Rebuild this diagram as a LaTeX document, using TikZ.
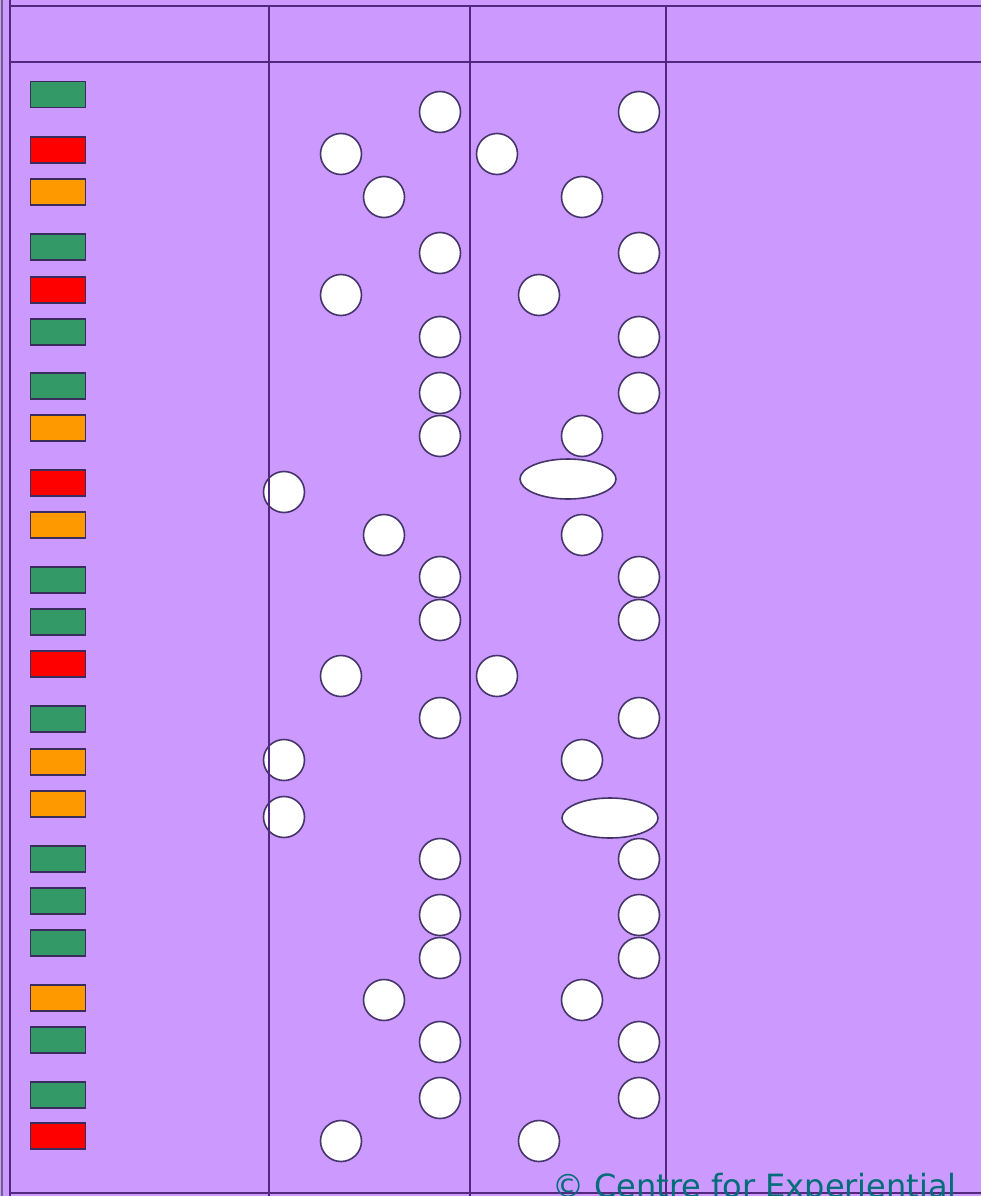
\documentclass[tikz,border=0pt]{standalone}
\usepackage{fontspec}
\usetikzlibrary{shapes.geometric}
\newfontfamily\credfont{DejaVu Sans}
\definecolor{bg}{HTML}{CC99FF}
\definecolor{gridline}{HTML}{52287F}
\definecolor{edgegray}{HTML}{6E6288}
\definecolor{dotline}{HTML}{45356A}
\definecolor{barline}{HTML}{3A2C5C}
\definecolor{gbar}{HTML}{339966}
\definecolor{rbar}{HTML}{FF0000}
\definecolor{obar}{HTML}{FF9900}
\definecolor{credit}{HTML}{006E78}
\begin{document}
\begin{tikzpicture}[x=1pt,y=-1pt,
  tline/.style={draw=gridline, line width=2.2pt},
  dot/.style={circle, draw=dotline, fill=white, minimum size=41pt, inner sep=0pt, line width=1.6pt},
  oval/.style={ellipse, draw=dotline, fill=white, minimum width=96pt, minimum height=40pt, inner sep=0pt, line width=1.6pt},
  bar/.style={rectangle, draw=barline, minimum width=55pt, minimum height=26pt, inner sep=0pt, line width=1.3pt},
  gb/.style={bar, fill=gbar},
  rb/.style={bar, fill=rbar},
  ob/.style={bar, fill=obar}]
\useasboundingbox (0,0) rectangle (981,1196);
\clip (0,0) rectangle (981,1196);
\fill[bg] (0,0) rectangle (981,1196);

% legend bars
\node[gb] (b1) at (58,94.5) {};
\node[rb] (b2) at (58,150) {};
\node[ob] (b3) at (58,192) {};
\node[gb] (b4) at (58,247) {};
\node[rb] (b5) at (58,290) {};
\node[gb] (b6) at (58,332) {};
\node[gb] (b7) at (58,386) {};
\node[ob] (b8) at (58,428) {};
\node[rb] (b9) at (58,483) {};
\node[ob] (b10) at (58,525) {};
\node[gb] (b11) at (58,580) {};
\node[gb] (b12) at (58,622) {};
\node[rb] (b13) at (58,664) {};
\node[gb] (b14) at (58,719) {};
\node[ob] (b15) at (58,762) {};
\node[ob] (b16) at (58,804) {};
\node[gb] (b17) at (58,859) {};
\node[gb] (b18) at (58,901) {};
\node[gb] (b19) at (58,943) {};
\node[ob] (b20) at (58,998) {};
\node[gb] (b21) at (58,1040) {};
\node[gb] (b22) at (58,1095) {};
\node[rb] (b23) at (58,1136) {};

% column 2 dots
\node[dot] (p1) at (440,112) {};
\node[dot] (p2) at (341,154) {};
\node[dot] (p3) at (384,197) {};
\node[dot] (p4) at (440,253) {};
\node[dot] (p5) at (341,295) {};
\node[dot] (p6) at (440,337) {};
\node[dot] (p7) at (440,393) {};
\node[dot] (p8) at (440,436) {};
\node[dot] (p9) at (284,492) {};
\node[dot] (p10) at (384,535) {};
\node[dot] (p11) at (440,577) {};
\node[dot] (p12) at (440,620) {};
\node[dot] (p13) at (341,676) {};
\node[dot] (p14) at (440,718) {};
\node[dot] (p15) at (284,760) {};
\node[dot] (p16) at (284,817) {};
\node[dot] (p17) at (440,859) {};
\node[dot] (p18) at (440,915) {};
\node[dot] (p19) at (440,958) {};
\node[dot] (p20) at (384,1000) {};
\node[dot] (p21) at (440,1042) {};
\node[dot] (p22) at (440,1098) {};
\node[dot] (p23) at (341,1141) {};

% column 3 dots
\node[dot] (q1) at (639,112) {};
\node[dot] (q2) at (497,154) {};
\node[dot] (q3) at (582,197) {};
\node[dot] (q4) at (639,253) {};
\node[dot] (q5) at (539,295) {};
\node[dot] (q6) at (639,337) {};
\node[dot] (q7) at (639,393) {};
\node[dot] (q8) at (582,436) {};
\node[oval] (q9) at (568,479) {};
\node[dot] (q10) at (582,535) {};
\node[dot] (q11) at (639,577) {};
\node[dot] (q12) at (639,620) {};
\node[dot] (q13) at (497,676) {};
\node[dot] (q14) at (639,718) {};
\node[dot] (q15) at (582,760) {};
\node[oval] (q16) at (610,818) {};
\node[dot] (q17) at (639,859) {};
\node[dot] (q18) at (639,915) {};
\node[dot] (q19) at (639,958) {};
\node[dot] (q20) at (582,1000) {};
\node[dot] (q21) at (639,1042) {};
\node[dot] (q22) at (639,1098) {};
\node[dot] (q23) at (539,1141) {};

% table grid
\draw[draw=edgegray, line width=1.2pt] (2,0) -- (2,1196);
\draw[tline] (10,0) -- (10,1196);
\draw[tline] (10,6) -- (981,6);
\draw[tline] (10,62) -- (981,62);
\draw[tline] (10,1193) -- (981,1193);
\draw[tline] (269,6) -- (269,1196);
\draw[tline] (470,6) -- (470,1196);
\draw[tline] (666,6) -- (666,1196);

% credit
\node[anchor=base west, inner sep=0pt, text=credit, font=\credfont\fontsize{32}{38}\selectfont] (cred) at (552,1197) {© Centre for Experiential};
\end{tikzpicture}
\end{document}
